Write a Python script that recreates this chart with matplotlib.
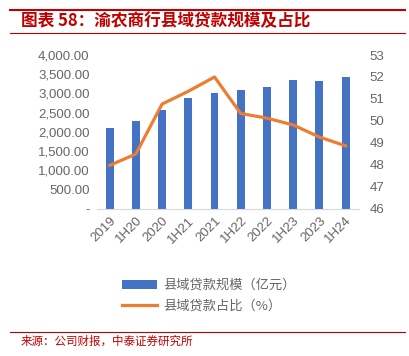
import matplotlib.pyplot as plt
import numpy as np

plt.rcParams['font.family'] = ['Liberation Sans', 'Noto Sans CJK SC', 'DejaVu Sans']

# 渝农商行县域贷款规模及占比
periods = ["2019", "1H20", "2020", "1H21", "2021", "1H22", "2022", "1H23", "2023", "1H24"]
loans = [2096, 2294, 2571, 2875, 3021, 3099, 3160, 3342, 3325, 3436]   # 亿元
share = [47.98, 48.5, 50.77, 51.35, 52.0, 50.34, 50.13, 49.82, 49.27, 48.87]   # %

bar_color = "#4472C4"
line_color = "#ED7D31"
red = "#C00000"
gray = "#666666"

fig = plt.figure(figsize=(4.09, 3.56), dpi=100)
ax = fig.add_axes([0.236, 0.413, 0.641, 0.4325])
x = np.arange(len(periods))
ax.bar(x, loans, width=0.3, color=bar_color, label="县域贷款规模（亿元）", zorder=2)
ax.set_xlim(-0.5, len(periods) - 0.5)
ax.set_ylim(0, 4000)
ax.set_yticks(np.arange(0, 4001, 500))
ax.set_yticklabels(["-"] + ["{:,.2f}".format(v) for v in np.arange(500, 4001, 500)])
ax.set_xticks(x)
ax.set_xticklabels(periods, rotation=45, ha="right", rotation_mode="anchor")
for s in ["top", "right", "left"]:
    ax.spines[s].set_visible(False)
ax.spines["bottom"].set_color("#D9D9D9")
ax.tick_params(axis="both", length=0, colors=gray, labelsize=9.5)
ax.tick_params(axis="y", pad=5)
ax.tick_params(axis="x", pad=4)

ax2 = ax.twinx()
ax2.plot(x, share, color=line_color, lw=2.3, label="县域贷款占比（%）", zorder=3)
ax2.set_ylim(46, 53)
ax2.set_yticks(range(46, 54))
for s in ["top", "right", "left", "bottom"]:
    ax2.spines[s].set_visible(False)
ax2.tick_params(axis="y", length=0, colors=gray, labelsize=9.5, pad=8)

h1, l1 = ax.get_legend_handles_labels()
h2, l2 = ax2.get_legend_handles_labels()
leg = fig.legend(h1 + h2, l1 + l2, loc="upper left", bbox_to_anchor=(0.27, 0.25),
                 frameon=False, fontsize=9.5, handlelength=2.6, handleheight=0.7,
                 labelspacing=0.55, handletextpad=0.5)
for t in leg.get_texts():
    t.set_color(gray)
    t.set_family(['Noto Sans CJK SC', 'DejaVu Sans'])

# title block
fig.add_artist(plt.Line2D([0.025, 0.99], [0.972, 0.972], color=red, lw=1.5))
fig.add_artist(plt.Line2D([0.025, 0.99], [0.907, 0.907], color=red, lw=0.8))
fig.text(0.052, 0.94, "图表 58：渝农商行县域贷款规模及占比", color=red, fontsize=12,
         fontweight="bold", fontstyle="italic", va="center",
         family=['Noto Sans CJK SC', 'DejaVu Sans'])

# source
fig.add_artist(plt.Line2D([0.025, 0.99], [0.068, 0.068], color=red, lw=0.8))
fig.text(0.05, 0.042, "来源：公司财报，中泰证券研究所", color=red, fontsize=8.3, va="center",
         family=['Noto Sans CJK SC', 'DejaVu Sans'])

fig.savefig("out.png", dpi=100)
